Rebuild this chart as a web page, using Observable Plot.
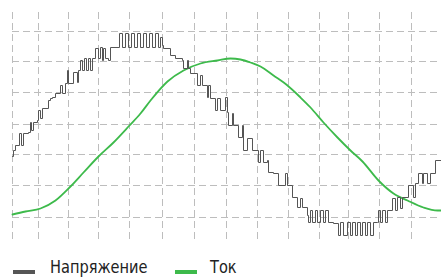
<!DOCTYPE html>
<html>
<head>
<meta charset="utf-8">
<script src="https://cdn.jsdelivr.net/npm/d3@7"></script>
<script src="https://cdn.jsdelivr.net/npm/@observablehq/plot@0.6"></script>
<style>
  html, body { margin: 0; padding: 0; background: #fff; overflow: hidden; }
  #chart { position: absolute; left: 0; top: 0; }
  #legend { position: absolute; left: 0; top: 257px; height: 20px; width: 441px;
    font-family: "Liberation Sans Narrow", "DejaVu Sans Condensed", "Liberation Sans", Arial, sans-serif;
    font-size: 18px; color: #222; line-height: 18px; white-space: nowrap; }
  .sw { position: absolute; top: 13px; width: 22px; height: 4px; }
  .lb { position: absolute; top: 1px; transform: scaleX(0.9); transform-origin: 0 0; }
</style>
</head>
<body>
<div id="chart"></div>
<div id="legend"></div>
<script>
// Series names
const seriesNames = ["Напряжение", "Ток"];
const seriesColors = ["#555555", "#3dba4b"];

// Voltage (staircase): sample index and level
const voltageT = [0,1,3,7,9,11,16,18,19,21,25,26,28,30,36,38,40,43,48,50,53,55,56,61,65,66,68,70,72,74,76,78,80,83,86,88,90,91,93,96,98,107,110,113,116,119,122,125,128,131,134,137,140,143,146,148,150,151,158,163,170,171,175,176,178,185,188,190,195,196,198,203,205,208,213,215,216,220,221,226,230,231,235,240,246,248,251,255,256,261,266,273,275,280,285,288,290,295,296,298,300,303,305,308,311,313,316,321,326,328,331,335,338,340,343,345,348,350,353,355,358,361,365,366,368,370,373,375,380,383,385,388,390,396,401,403,406,410,411,415,418,423,429];
const voltageV = [84,90,95,107,95,107,108,118,110,118,120,130,122,132,140,142,143,147,155,147,157,170,157,168,158,170,180,170,182,170,182,170,182,192,182,193,180,192,182,180,193,207,193,207,193,207,193,207,193,207,193,207,193,207,193,203,195,192,185,182,180,172,180,172,167,155,165,155,143,155,142,130,142,130,143,128,115,127,115,103,115,90,102,90,78,90,78,80,68,67,55,67,55,43,33,42,33,25,18,30,18,30,18,30,18,30,18,17,5,18,5,18,5,18,5,18,5,18,5,18,5,18,18,30,18,30,18,30,42,30,43,32,43,55,43,57,67,57,67,57,67,80,80];

// Current (smooth): sample index and level
const currentT = [0,13,28,43,58,71,86,101,117,128,138,155,171,188,205,218,228,238,248,261,275,288,298,311,325,338,350,366,381,395,411,425,429];
const currentV = [26,29,32,40,54,68,84,98,115,127,140,159,170,177,180,182,181,178,174,165,155,143,133,118,103,90,79,60,47,40,33,30,30];

// Grid positions
const gridT = [0,26,56,86,117,150,182,214,245,276,307,336,367,399];
const gridV = [23,55,86,116,148,179,209];

const voltage = voltageT.map((t, i) => ({t, v: voltageV[i]}));
const current = currentT.map((t, i) => ({t, v: currentV[i]}));

const chart = Plot.plot({
  width: 441,
  height: 242,
  marginLeft: 12,
  marginRight: 0,
  marginTop: 12,
  marginBottom: 2,
  x: {domain: [0, 429], axis: null},
  y: {domain: [0, 228], axis: null},
  marks: [
    Plot.ruleX(gridT, {stroke: "#bdbdbd", strokeWidth: 1, strokeDasharray: "7,4", strokeOpacity: 1}),
    Plot.ruleY(gridV, {stroke: "#bdbdbd", strokeWidth: 1, strokeDasharray: "7,4", strokeOpacity: 1}),
    Plot.line(current, {x: "t", y: "v", stroke: seriesColors[1], strokeWidth: 1.8, curve: "monotone-x"}),
    Plot.line(voltage, {x: "t", y: "v", stroke: seriesColors[0], strokeWidth: 1, curve: "step-after"})
  ]
});
document.getElementById("chart").appendChild(chart);

const legend = document.getElementById("legend");
const swX = [13, 175], lbX = [50, 210];
seriesNames.forEach((name, i) => {
  const sw = document.createElement("div");
  sw.className = "sw";
  sw.style.left = swX[i] + "px";
  sw.style.background = seriesColors[i];
  legend.appendChild(sw);
  const lb = document.createElement("div");
  lb.className = "lb";
  lb.style.left = lbX[i] + "px";
  lb.textContent = name;
  legend.appendChild(lb);
});
</script>
</body>
</html>
